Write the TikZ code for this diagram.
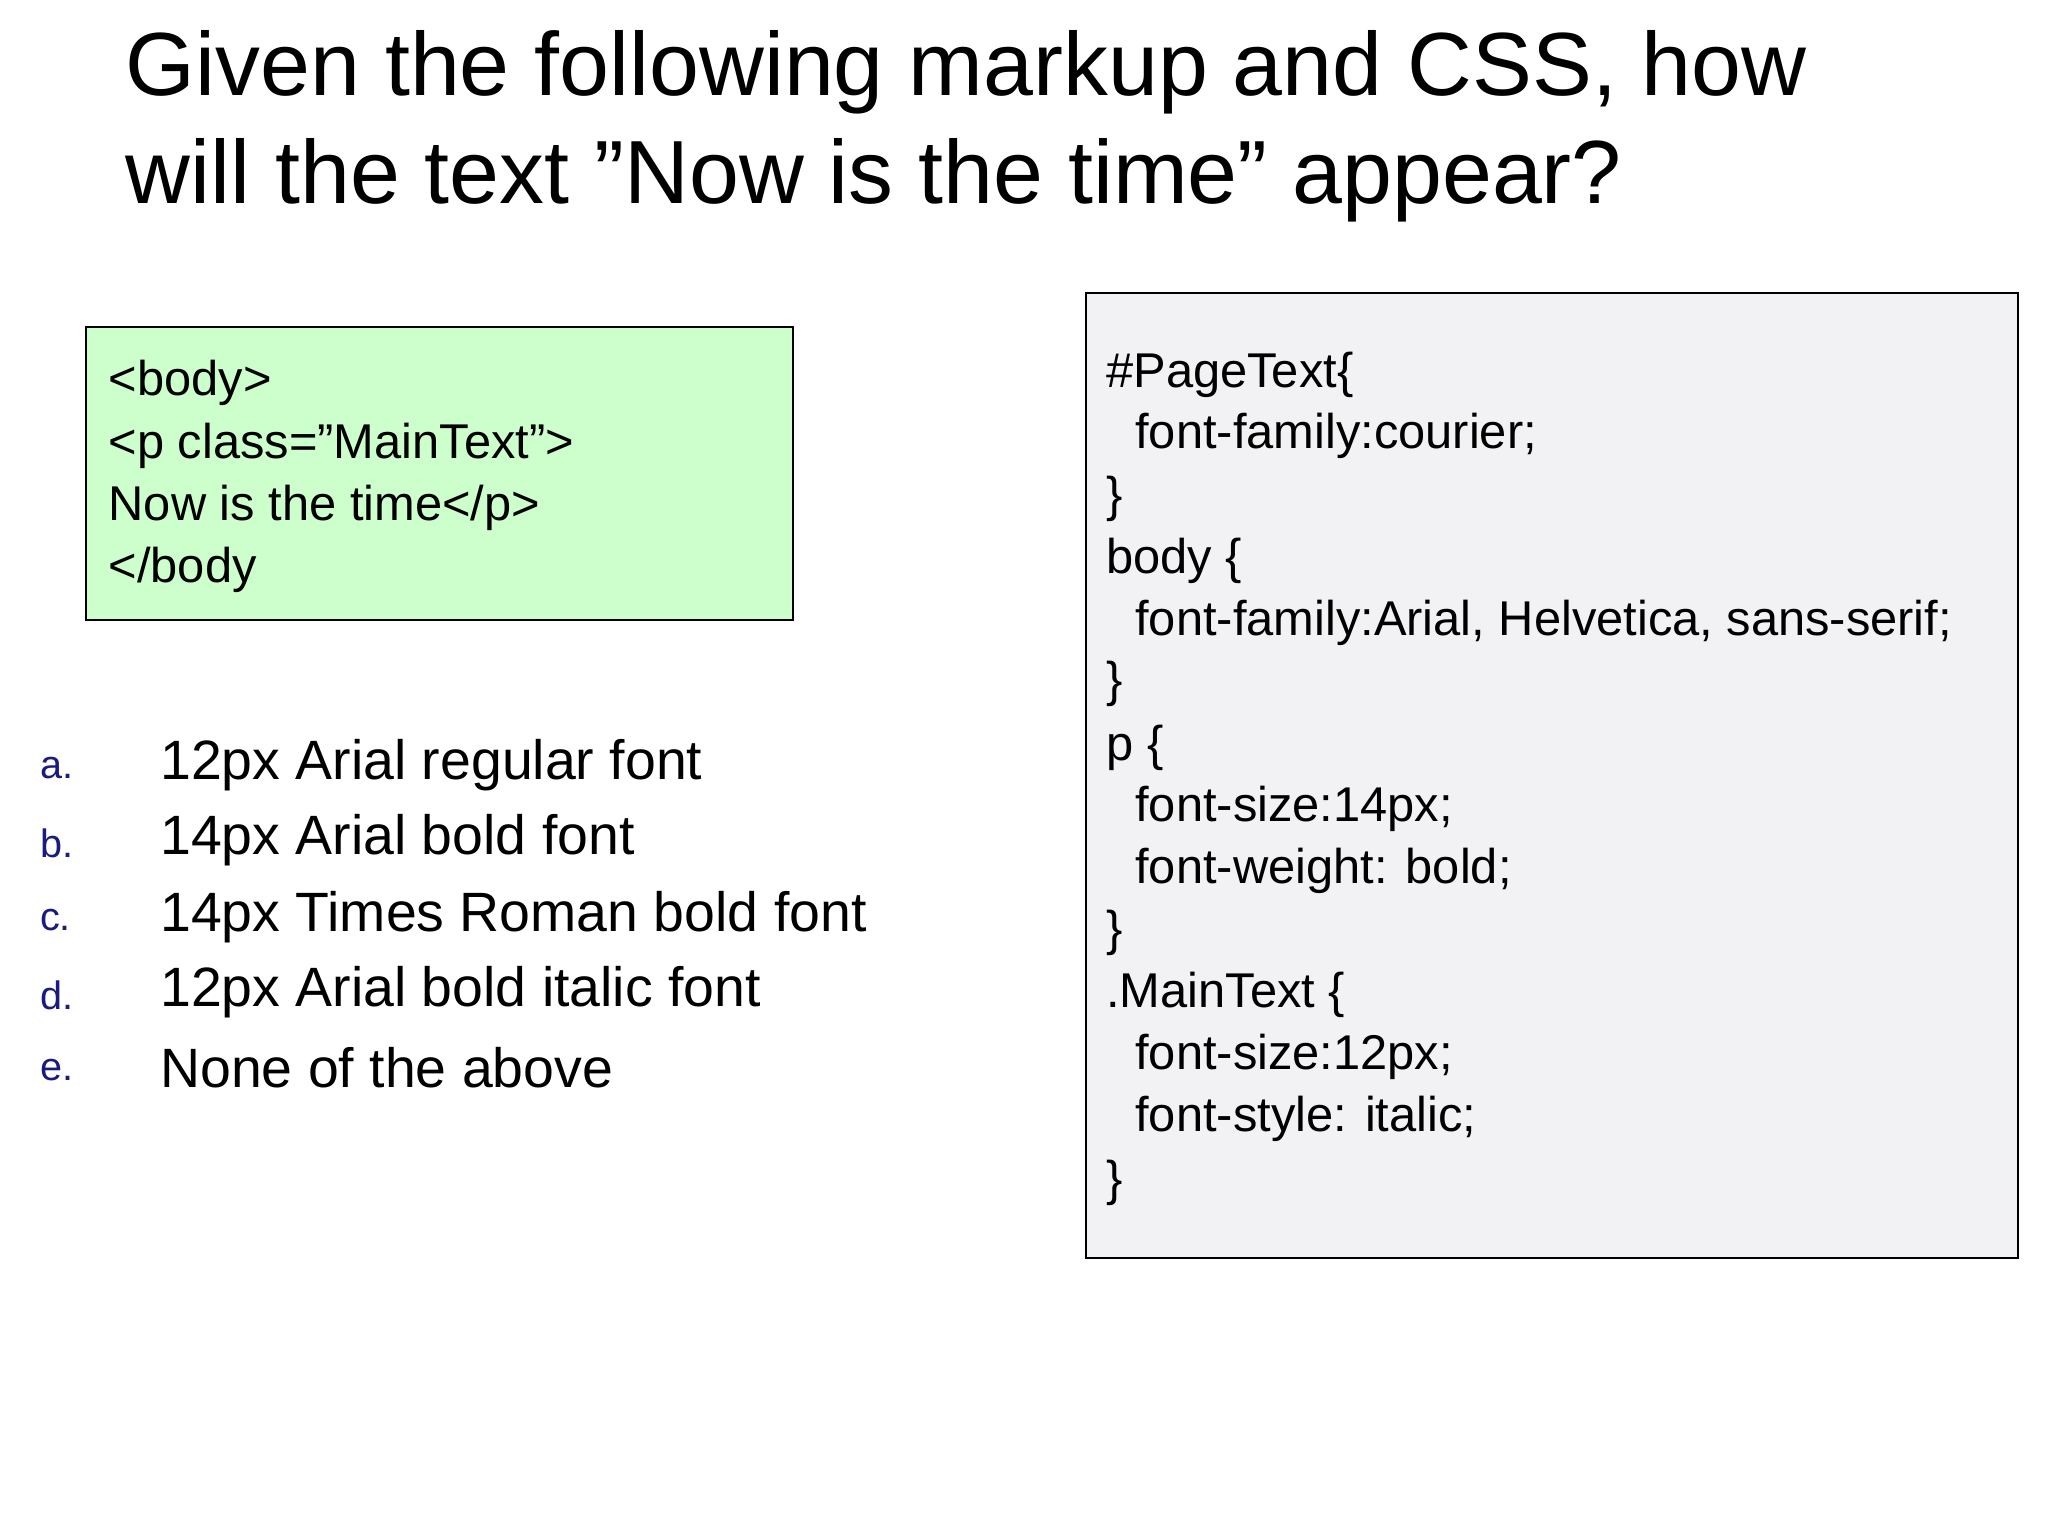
\documentclass[tikz,border=0pt]{standalone}
\usepackage{fontspec}
\setmainfont{Liberation Sans}
\definecolor{grn}{HTML}{CCFFCC}
\definecolor{gry}{HTML}{F2F1F3}
\definecolor{lbl}{HTML}{1A1A80}
\begin{document}
\begin{tikzpicture}[x=0.5pt,y=-0.5pt,
  txt/.style={anchor=west,inner sep=0pt,font=\fontsize{18.5}{22}\selectfont},
  opt/.style={anchor=west,inner sep=0pt,font=\fontsize{21}{25}\selectfont},
  lab/.style={anchor=west,inner sep=0pt,text=lbl,font=\fontsize{15}{18}\selectfont},
  ttl/.style={anchor=west,inner sep=0pt,font=\fontsize{34}{40}\selectfont}]
\useasboundingbox (0,0) rectangle (1552,1164);
\fill[white] (0,0) rectangle (1552,1164);
\node[ttl] (t1) at (95,55) {Given the following markup and CSS, how};
\node[ttl] (t2) at (95,137) {will the text "Now is the time" appear?};
\draw[fill=grn,line width=0.8pt] (65,248) rectangle (601,470);
\node[txt] (h1) at (82,290) {<body>};
\node[txt] (h2) at (82,338) {<p class="MainText">};
\node[txt] (h3) at (82,385) {Now is the time</p>};
\node[txt] (h4) at (82,432) {</body};
\draw[fill=gry,line width=0.8pt] (823,222) rectangle (1529,953);
\node[txt] (c1) at (838,284) {\#PageText\{};
\node[txt] (c2) at (860,330) {font-family:courier;};
\node[txt] (c3) at (838,378) {\}};
\node[txt] (c4) at (838,425) {body \{};
\node[txt] (c5) at (860,472) {font-family:Arial, Helvetica, sans-serif;};
\node[txt] (c6) at (838,518) {\}};
\node[txt] (c7) at (838,567) {p \{};
\node[txt] (c8) at (860,613) {font-size:14px;};
\node[txt] (c9) at (860,660) {font-weight: bold;};
\node[txt] (c10) at (838,707) {\}};
\node[txt] (c11) at (838,754) {.MainText \{};
\node[txt] (c12) at (860,801) {font-size:12px;};
\node[txt] (c13) at (860,848) {font-style: italic;};
\node[txt] (c14) at (838,896) {\}};
\node[lab] (la) at (30,582) {a.};
\node[lab] (lb) at (30,639) {b.};
\node[lab] (lc) at (30,697) {c.};
\node[lab] (ld) at (30,754) {d.};
\node[lab] (le) at (30,811) {e.};
\node[opt] (oa) at (121,580) {12px Arial regular font};
\node[opt] (ob) at (121,637) {14px Arial bold font};
\node[opt] (oc) at (121,695) {14px Times Roman bold font};
\node[opt] (od) at (121,752) {12px Arial bold italic font};
\node[opt] (oe) at (121,809) {None of the above};
\end{tikzpicture}
\end{document}
